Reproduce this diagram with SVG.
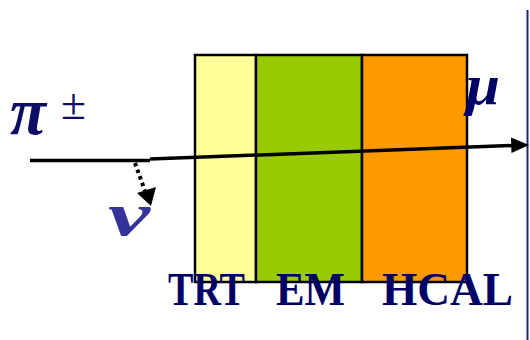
<svg xmlns="http://www.w3.org/2000/svg" width="530" height="340" viewBox="0 0 530 340">
<style>
.lbl{font-family:"Liberation Serif","Times New Roman",serif;font-weight:bold;fill:#000066;font-size:47px}
.greek{font-family:"Liberation Serif","DejaVu Serif",serif;font-weight:bold;font-style:italic}
.cell{stroke:#000;stroke-width:2.5}
</style>
<rect width="530" height="340" fill="#fff"/>
<line x1="527.5" y1="10" x2="527.5" y2="340" stroke="#1a2a6a" stroke-width="2"/>
<g id="TRT">
<rect class="cell" x="195" y="55" width="61" height="227" fill="#ffff99"/>
<text class="lbl" x="168" y="305" textLength="77" lengthAdjust="spacingAndGlyphs">TRT</text>
</g>
<g id="EM">
<rect class="cell" x="256" y="55" width="106" height="227" fill="#99cc00"/>
<text class="lbl" x="276" y="305" textLength="69" lengthAdjust="spacingAndGlyphs">EM</text>
</g>
<g id="HCAL">
<rect class="cell" x="362" y="55" width="105" height="227" fill="#ff9900"/>
<text class="lbl" x="382" y="305" textLength="131" lengthAdjust="spacingAndGlyphs">HCAL</text>
</g>
<g id="pion">
<text class="greek" x="10" y="134" font-size="68" fill="#0d0d66" textLength="36" lengthAdjust="spacingAndGlyphs">π</text>
<text x="61" y="119" font-family="Liberation Serif,serif" font-size="44" fill="#0d0d66" textLength="25" lengthAdjust="spacingAndGlyphs">±</text>
</g>
<g id="neutrino">
<text class="greek" x="108" y="235" font-size="62" fill="#333399" textLength="42" lengthAdjust="spacingAndGlyphs">ν</text>
</g>
<g id="muon">
<text class="greek" x="466" y="104" font-size="56" fill="#000066" textLength="34" lengthAdjust="spacingAndGlyphs">μ</text>
</g>
<g id="connectors">
<line x1="30" y1="160.5" x2="150" y2="160.5" stroke="#000" stroke-width="3.5"/>
<line x1="150" y1="159" x2="513" y2="145.5" stroke="#000" stroke-width="3.5"/>
<polygon points="529,145 511,137.5 511.5,153" fill="#000"/>
<line x1="135" y1="163" x2="145" y2="191" stroke="#000" stroke-width="4" stroke-dasharray="3.5,3.5"/>
<polygon points="151,206 137,193 156,187" fill="#000"/>
</g>
</svg>
